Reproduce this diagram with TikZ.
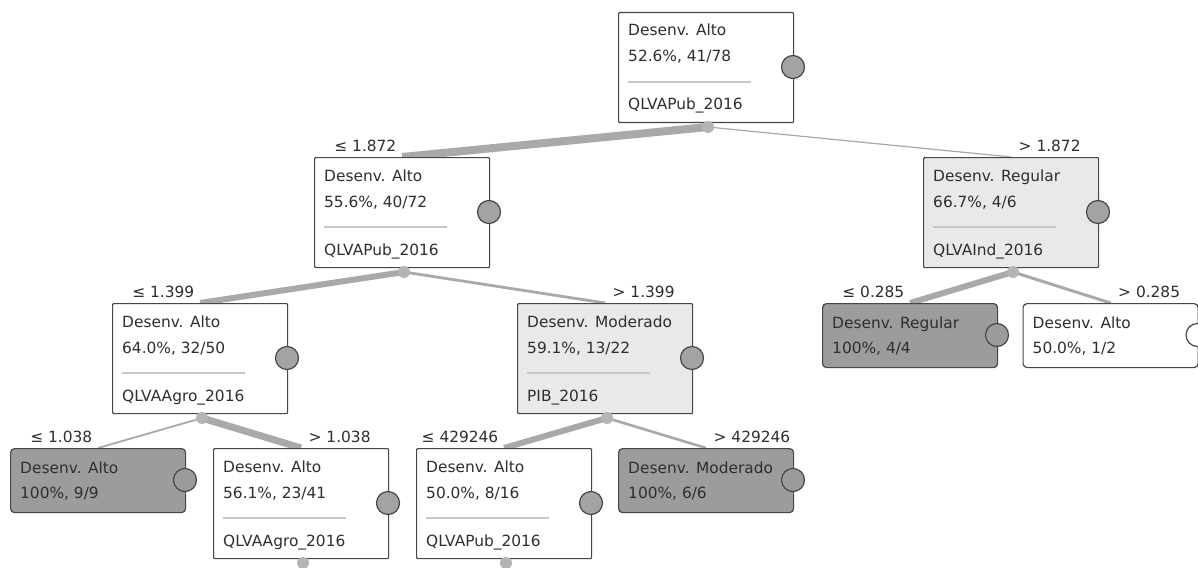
\documentclass[tikz,border=0pt]{standalone}
\usepackage{fontspec}
\setmainfont{DejaVu Sans}
\usetikzlibrary{calc}
\pgfdeclarelayer{bg}
\pgfsetlayers{bg,main}
\definecolor{lightfill}{HTML}{E9E9E9}
\definecolor{darkfill}{HTML}{9C9C9C}
\definecolor{bordercol}{HTML}{474747}
\definecolor{piefill}{HTML}{A3A3A3}
\definecolor{dotfill}{HTML}{B4B4B4}
\definecolor{edgecol}{HTML}{A9A9A9}
\definecolor{sepcol}{HTML}{C8C8C8}
\definecolor{txtcol}{HTML}{2E2E2E}
\tikzset{
  decbox/.style={draw=bordercol, line width=1.2pt, minimum width=175pt, minimum height=110pt, inner sep=0pt, rounded corners=1pt, anchor=north west},
  leafbox/.style={draw=bordercol, line width=1.2pt, minimum width=175pt, minimum height=64pt, inner sep=0pt, rounded corners=4pt, anchor=north west},
  txt/.style={font=\fontsize{15.4}{18}\selectfont, inner sep=0pt, anchor=base west, text=txtcol},
  lab/.style={font=\fontsize{15.4}{18}\selectfont, inner sep=0pt, text=txtcol},
  pie/.style={circle, draw=bordercol, line width=1.2pt, fill=piefill, minimum size=23pt, inner sep=0pt},
  edot/.style={circle, fill=dotfill, minimum size=12pt, inner sep=0pt},
  sepline/.style={draw=sepcol, line width=1.2pt},
  edge/.style={draw=edgecol}
}
% decision node: name, left, top, fill, line1, line2, line3
\newcommand{\decnode}[7]{%
  \node[decbox, fill=#4] (#1) at (#2,#3) {};
  \node[txt] (#1a) at (#2+10,#3+24) {#5};
  \node[txt] (#1b) at (#2+10,#3+50) {#6};
  \coordinate (#1s1) at (#2+10,#3+70);
  \coordinate (#1s2) at (#2+133,#3+70);
  \draw[sepline] (#1s1) -- (#1s2);
  \node[txt] (#1c) at (#2+10,#3+98) {#7};
  \node[pie] (#1p) at (#2+175,#3+55) {};
  \node[edot] (#1d) at (#2+90,#3+115) {};
}
% leaf node: name, left, top, fill, line1, line2
\newcommand{\leafnode}[6]{%
  \node[leafbox, fill=#4] (#1) at (#2,#3) {};
  \node[txt] (#1a) at (#2+10,#3+25) {#5};
  \node[txt] (#1b) at (#2+10,#3+50) {#6};
  \node[pie, fill=#4] (#1p) at (#2+175,#3+32) {};
}
\begin{document}
\begin{tikzpicture}[x=1pt,y=-1pt]
\useasboundingbox (0,0) rectangle (1198,567);

\decnode{n0}{618}{12}{white}{Desenv. Alto}{52.6\%, 41/78}{QLVAPub\_2016}
\decnode{n1}{314}{157}{white}{Desenv. Alto}{55.6\%, 40/72}{QLVAPub\_2016}
\decnode{n2}{923}{157}{lightfill}{Desenv. Regular}{66.7\%, 4/6}{QLVAInd\_2016}
\decnode{n3}{112}{303}{white}{Desenv. Alto}{64.0\%, 32/50}{QLVAAgro\_2016}
\decnode{n4}{517}{303}{lightfill}{Desenv. Moderado}{59.1\%, 13/22}{PIB\_2016}
\leafnode{n5}{822}{303}{darkfill}{Desenv. Regular}{100\%, 4/4}
\leafnode{n6}{1022.5}{303}{white}{Desenv. Alto}{50.0\%, 1/2}
\leafnode{n7}{10}{448}{darkfill}{Desenv. Alto}{100\%, 9/9}
\decnode{n8}{213}{448}{white}{Desenv. Alto}{56.1\%, 23/41}{QLVAAgro\_2016}
\decnode{n9}{416}{448}{white}{Desenv. Alto}{50.0\%, 8/16}{QLVAPub\_2016}
\leafnode{n10}{618}{448}{darkfill}{Desenv. Moderado}{100\%, 6/6}

\begin{pgfonlayer}{bg}
  \fill[white] (0,0) rectangle (1198,567);
  \draw[edge, line width=8pt] (n0d.center) -- (n1.north);
  \draw[edge, line width=1.2pt] (n0d.center) -- (n2.north);
  \draw[edge, line width=6pt] (n1d.center) -- (n3.north);
  \draw[edge, line width=2.8pt] (n1d.center) -- (n4.north);
  \draw[edge, line width=6pt] (n2d.center) -- (n5.north);
  \draw[edge, line width=3pt] (n2d.center) -- (n6.north);
  \draw[edge, line width=1.8pt] (n3d.center) -- (n7.north);
  \draw[edge, line width=7pt] (n3d.center) -- (n8.north);
  \draw[edge, line width=6pt] (n4d.center) -- (n9.north);
  \draw[edge, line width=2.6pt] (n4d.center) -- (n10.north);
\end{pgfonlayer}

\node[lab, anchor=base east] (l1) at (396.5,151) {≤ 1.872};
\node[lab, anchor=base west] (l2) at (1018.5,151) {> 1.872};
\node[lab, anchor=base east] (l3) at (194.5,297) {≤ 1.399};
\node[lab, anchor=base west] (l4) at (612.5,297) {> 1.399};
\node[lab, anchor=base east] (l5) at (904.5,297) {≤ 0.285};
\node[lab, anchor=base west] (l6) at (1118,297) {> 0.285};
\node[lab, anchor=base east] (l7) at (92.5,442) {≤ 1.038};
\node[lab, anchor=base west] (l8) at (308.5,442) {> 1.038};
\node[lab, anchor=base east] (l9) at (498.5,442) {≤ 429246};
\node[lab, anchor=base west] (l10) at (713.5,442) {> 429246};
\end{tikzpicture}
\end{document}
